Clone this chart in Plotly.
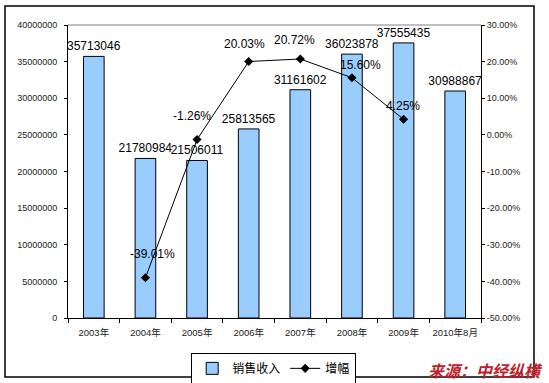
import plotly.graph_objects as go

years = ["2003年", "2004年", "2005年", "2006年", "2007年", "2008年", "2009年", "2010年8月"]
revenue = [35713046, 21780984, 21506011, 25813565, 31161602, 36023878, 37555435, 30988867]
growth = [None, -0.3901, -0.0126, 0.2003, 0.2072, 0.1560, 0.0425, None]

left_ticks = list(range(0, 40000001, 5000000))
right_ticks = [-0.5, -0.4, -0.3, -0.2, -0.1, 0.0, 0.1, 0.2, 0.3]

# label placement tweaks (pixels) for the growth data labels
label_dx = [0, 7, -5, -4, -6, 9, -1, 0]
label_dy = [0, 24, 23, 18, 19, 13, 13, 0]

num_font = "Liberation Sans, Arial, sans-serif"
cjk_font = "Liberation Sans, Noto Sans CJK SC, sans-serif"

fig = go.Figure()
fig.add_trace(go.Bar(
    x=years, y=revenue, name="销售收入", width=0.4,
    marker=dict(color="#99CCFF", line=dict(color="black", width=1)),
    text=[str(v) for v in revenue], textposition="outside",
    constraintext="none",
    textfont=dict(family=num_font, size=12, color="black"),
    outsidetextfont=dict(family=num_font, size=12, color="black"),
    cliponaxis=False,
))
fig.add_trace(go.Scatter(
    x=years, y=growth, name="增幅", yaxis="y2",
    mode="lines+markers",
    line=dict(color="black", width=1),
    marker=dict(symbol="diamond", size=7, color="black"),
    cliponaxis=False,
))

annotations = []
for yr, g, dx, dy in zip(years, growth, label_dx, label_dy):
    if g is None:
        continue
    annotations.append(dict(
        x=yr, y=g, xref="x", yref="y2", text=f"{g*100:.2f}%",
        showarrow=False, xanchor="center", yanchor="middle",
        xshift=dx, yshift=dy,
        font=dict(family=num_font, size=12, color="black"),
    ))
annotations.append(dict(
    text="<b><i>来源：中经纵横</i></b>", xref="paper", yref="paper",
    x=(485 - 68) / 413, y=(318 - 370) / 293, xanchor="center", yanchor="middle",
    showarrow=False,
    font=dict(family="Noto Sans CJK SC, sans-serif", size=16, color="#C0202A"),
))

fig.update_layout(
    width=549, height=383,
    margin=dict(l=68, r=68, t=25, b=65, autoexpand=False),
    paper_bgcolor="white", plot_bgcolor="white",
    font=dict(family=cjk_font, color="black"),
    showlegend=True,
    legend=dict(
        orientation="h", x=0.498, xanchor="center", y=-0.119, yanchor="top",
        bordercolor="black", borderwidth=1, bgcolor="white",
        font=dict(family="Noto Sans CJK SC, sans-serif", size=12, color="black"),
        itemwidth=30, tracegroupgap=0,
    ),
    xaxis=dict(
        type="category", showline=True, linecolor="black", linewidth=1,
        ticks="outside", tickson="boundaries", ticklen=4, tickcolor="black",
        tickangle=0, ticklabelstandoff=6,
        tickfont=dict(family=cjk_font, size=9.5, color="#222"),
        showgrid=False, mirror=False,
    ),
    yaxis=dict(
        range=[0, 40000000], tickvals=left_ticks,
        ticktext=[str(v) for v in left_ticks],
        showline=True, linecolor="black", linewidth=1,
        ticks="outside", ticklen=3, tickcolor="black", ticklabelstandoff=5,
        tickfont=dict(family=num_font, size=9, color="#222"),
        showgrid=False, zeroline=False,
    ),
    yaxis2=dict(
        overlaying="y", side="right", range=[-0.5, 0.3], tickvals=right_ticks,
        ticktext=[f"{v*100:.2f}%" for v in right_ticks],
        showline=True, linecolor="black", linewidth=1,
        ticks="outside", ticklen=3, tickcolor="black",
        tickfont=dict(family=num_font, size=9, color="#222"),
        showgrid=False, zeroline=False,
    ),
    shapes=[
        dict(type="line", xref="paper", yref="paper", x0=0, x1=1, y0=1, y1=1,
             line=dict(color="#808080", width=1)),
        dict(type="rect", xref="paper", yref="paper",
             x0=(5 - 68) / 413, x1=(534 - 68) / 413,
             y0=(318 - 377) / 293, y1=(318 - 6) / 293,
             line=dict(color="black", width=1.5), fillcolor="rgba(0,0,0,0)", layer="below"),
    ],
    annotations=annotations,
)

fig.write_html("out.html", config={"displayModeBar": False},
               post_script="document.body.style.margin='0';")
